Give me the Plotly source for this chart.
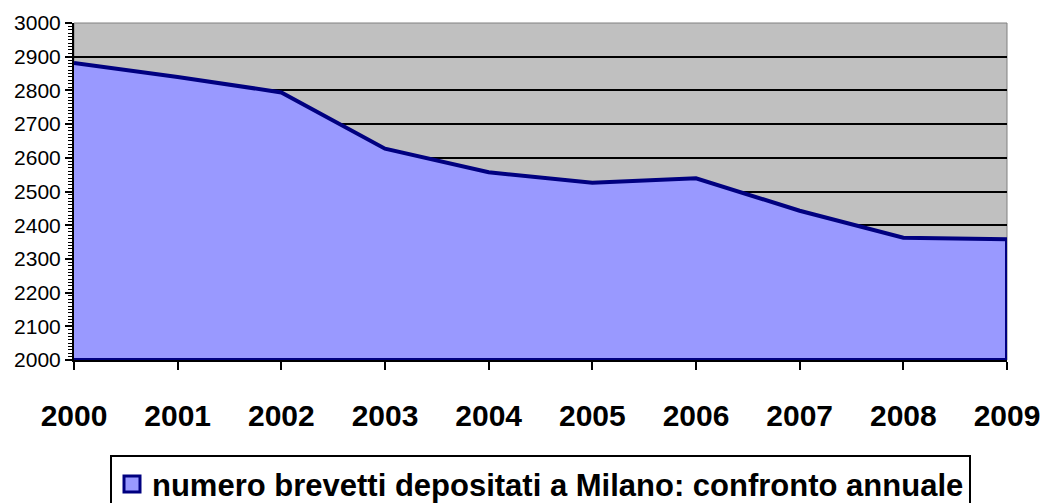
import plotly.graph_objects as go

years = [2000, 2001, 2002, 2003, 2004, 2005, 2006, 2007, 2008, 2009]
brevetti = [2881, 2840, 2794, 2627, 2557, 2526, 2539, 2443, 2363, 2358]
series_name = "numero brevetti depositati a Milano: confronto annuale"
y_min, y_max = 2000, 3000

FONT = "Liberation Sans, Arial, sans-serif"
FILL = "#9999FF"
NAVY = "#000080"

# closed polygon so the outline also runs down the right edge and along the base
xs = years + [years[-1], years[0]]
ys = brevetti + [y_min, y_min]

fig = go.Figure()
fig.add_trace(go.Scatter(
    x=xs, y=ys, mode="lines", fill="toself",
    fillcolor=FILL,
    line=dict(color=NAVY, width=4),
    name=series_name, showlegend=False, hoverinfo="skip",
))
# legend entry (square swatch like the original)
fig.add_trace(go.Scatter(
    x=[None], y=[None], mode="markers",
    marker=dict(symbol="square", size=16, color=FILL, line=dict(color=NAVY, width=3)),
    name=series_name, showlegend=True,
))

fig.update_layout(
    width=1044, height=503,
    margin=dict(l=74, r=37, t=23, b=143, autoexpand=False),
    paper_bgcolor="white",
    plot_bgcolor="#C0C0C0",
    font=dict(family=FONT, color="black"),
    showlegend=True,
    legend=dict(
        orientation="h",
        x=0.5, xanchor="center",
        y=-0.283, yanchor="top",
        bgcolor="white",
        bordercolor="black", borderwidth=2,
        font=dict(size=31, family=FONT, color="black", weight="bold"),
        itemwidth=30,
    ),
    shapes=[dict(type="rect", xref="paper", yref="paper", x0=0, x1=1, y0=0, y1=1,
                 line=dict(color="#808080", width=1), layer="below")],
)

fig.update_xaxes(
    range=[years[0], years[-1]],
    tickmode="array", tickvals=years, ticktext=[str(y) for y in years],
    ticks="outside", ticklen=8, tickwidth=2, tickcolor="black",
    ticklabelstandoff=20,
    showline=True, linecolor="black", linewidth=2,
    showgrid=False, zeroline=False,
    tickfont=dict(size=30, family=FONT, color="black", weight="bold"),
)
fig.update_yaxes(
    range=[y_min, y_max],
    tickmode="linear", tick0=y_min, dtick=100,
    ticks="outside", ticklen=7, tickwidth=2, tickcolor="black",
    minor=dict(dtick=10, ticks="outside", ticklen=4, tickwidth=1, tickcolor="black", showgrid=False),
    showline=True, linecolor="black", linewidth=2,
    showgrid=True, gridcolor="black", gridwidth=2,
    zeroline=False,
    tickfont=dict(size=21, family=FONT, color="black"),
)

fig.write_html("out.html", config={"displayModeBar": False},
               post_script="document.body.style.margin='0';")
